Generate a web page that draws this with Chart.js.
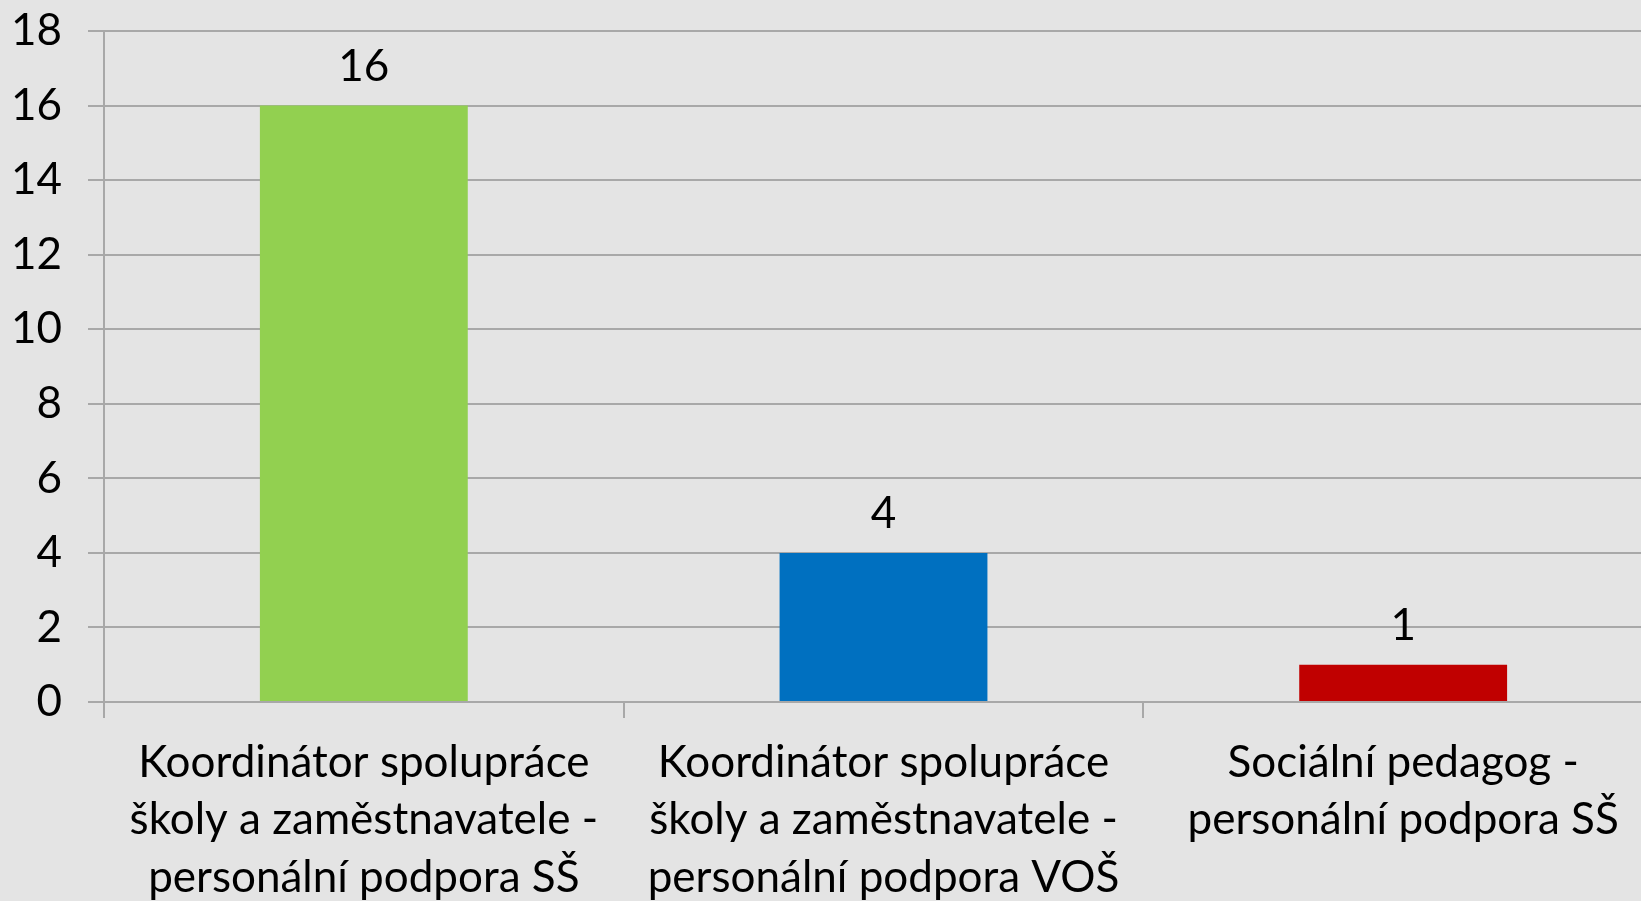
<!DOCTYPE html>
<html>
<head>
<meta charset="utf-8">
<script src="https://cdn.jsdelivr.net/npm/chart.js@4.4.1/dist/chart.umd.min.js"></script>
<style>
  html, body { margin: 0; padding: 0; background: #e4e4e4; overflow: hidden; }
  #wrap { width: 1641px; height: 901px; overflow: hidden; }
</style>
</head>
<body>
<div id="wrap"><canvas id="chart" width="1663" height="901"></canvas></div>
<script>
/* Bar chart: personal support positions */

const categories = [
  ["Koordinátor spolupráce", "školy a zaměstnavatele -", "personální podpora SŠ"],
  ["Koordinátor spolupráce", "školy a zaměstnavatele -", "personální podpora VOŠ"],
  ["Sociální pedagog -", "personální podpora SŠ"],
];
const values = [16, 4, 1];
const barColors = ["#92d050", "#0070c0", "#c00000"];
const yTickValues = [0, 2, 4, 6, 8, 10, 12, 14, 16, 18];

const FONT = "Lato, 'Open Sans', sans-serif";
const FONT_SIZE = 44;
const GRID = "#a8a8a8";

// value labels above each bar
const valueLabels = {
  id: "valueLabels",
  afterDatasetsDraw(chart) {
    const ctx = chart.ctx;
    const meta = chart.getDatasetMeta(0);
    ctx.save();
    ctx.font = FONT_SIZE + "px " + FONT;
    ctx.fillStyle = "#000";
    ctx.textAlign = "center";
    ctx.textBaseline = "middle";
    meta.data.forEach((bar, i) => {
      ctx.fillText(String(values[i]), bar.x, bar.y - 39);
    });
    ctx.restore();
  },
};

const ctx = document.getElementById("chart").getContext("2d");

new Chart(ctx, {
  type: "bar",
  data: {
    labels: categories,
    datasets: [
      {
        data: values,
        backgroundColor: barColors,
        borderWidth: 0,
        categoryPercentage: 1,
        barPercentage: 0.4,
      },
    ],
  },
  options: {
    responsive: false,
    animation: false,
    devicePixelRatio: 1,
    layout: { padding: { top: 31, right: 0, bottom: 0, left: 0 } },
    plugins: {
      legend: { display: false },
      tooltip: { enabled: false },
    },
    scales: {
      x: {
        grid: {
          offset: true,
          drawOnChartArea: false,
          drawTicks: true,
          tickLength: 16,
          color: GRID,
          lineWidth: 2,
        },
        border: { color: GRID, width: 2 },
        ticks: {
          color: "#000",
          font: { family: FONT, size: FONT_SIZE, lineHeight: "57.5px" },
          padding: 16,
          maxRotation: 0,
          autoSkip: false,
        },
        afterFit(scale) {
          scale.height = 199;
          scale.paddingLeft = 0;
          scale.paddingRight = 0;
        },
      },
      y: {
        min: 0,
        max: 18,
        afterBuildTicks(scale) {
          scale.ticks = yTickValues.map((v) => ({ value: v }));
        },
        grid: {
          color: GRID,
          lineWidth: 2,
          tickLength: 16,
        },
        border: { color: GRID, width: 2 },
        ticks: {
          color: "#000",
          font: { family: FONT, size: FONT_SIZE },
          padding: 26,
        },
        afterFit(scale) {
          scale.width = 104;
          scale.paddingTop = 0;
          scale.paddingBottom = 0;
        },
      },
    },
  },
  plugins: [valueLabels],
});
</script>
</body>
</html>
